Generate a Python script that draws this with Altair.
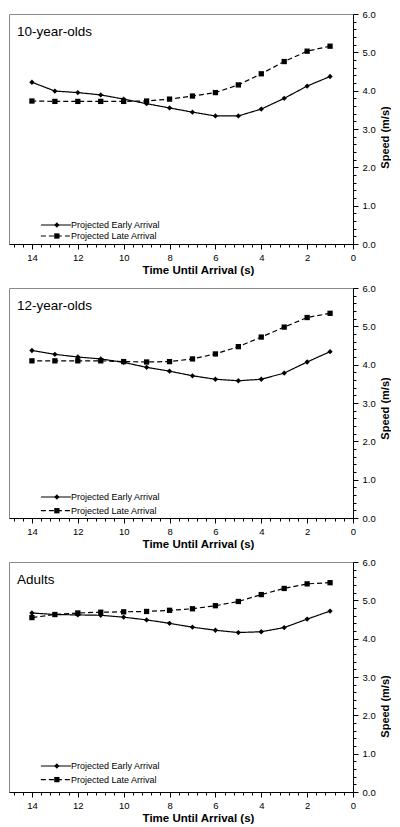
import altair as alt
import pandas as pd

FONT = "Liberation Sans"

time_until = [14, 13, 12, 11, 10, 9, 8, 7, 6, 5, 4, 3, 2, 1]
series_names = ["Projected Early Arrival", "Projected Late Arrival"]
marker_names = ["Early marker", "Late marker"]
group_names = ["10-year-olds", "12-year-olds", "Adults"]

early_10 = [4.22, 3.99, 3.95, 3.89, 3.78, 3.66, 3.55, 3.44, 3.34, 3.34, 3.52, 3.80, 4.12, 4.37]
late_10 = [3.73, 3.72, 3.72, 3.72, 3.72, 3.73, 3.78, 3.86, 3.95, 4.15, 4.44, 4.76, 5.03, 5.16]

early_12 = [4.37, 4.27, 4.20, 4.15, 4.06, 3.93, 3.83, 3.71, 3.62, 3.58, 3.62, 3.78, 4.07, 4.34]
late_12 = [4.10, 4.10, 4.10, 4.10, 4.08, 4.07, 4.08, 4.15, 4.28, 4.47, 4.72, 4.98, 5.23, 5.34]

early_ad = [4.67, 4.63, 4.62, 4.61, 4.56, 4.49, 4.40, 4.30, 4.22, 4.16, 4.18, 4.29, 4.51, 4.72]
late_ad = [4.55, 4.63, 4.67, 4.69, 4.70, 4.71, 4.74, 4.78, 4.86, 4.97, 5.15, 5.31, 5.43, 5.46]

x_tick_values = [round(0.4 * k, 1) for k in range(38)]
y_tick_values = [round(0.2 * k, 1) for k in range(31)]

X_MAJOR = "abs(datum.value - 2*round(datum.value/2)) < 0.01"
Y_MAJOR = "abs(datum.value - round(datum.value)) < 0.01"

W, H = 344, 230
LEG_FS = 9
SYM_CENTER = 46  # legend symbol centre, px from plot left


def panel(name, early, late, title_y, leg_center, leg_step):
    n = len(time_until)
    df = pd.DataFrame({
        "time": time_until * 2,
        "speed": early + late,
        "series": [series_names[0]] * n + [series_names[1]] * n,
        "marker": [marker_names[0]] * n + [marker_names[1]] * n,
    })

    x = alt.X(
        "time:Q",
        scale=alt.Scale(domain=[0, 15], reverse=True, nice=False, zero=False),
        axis=alt.Axis(
            values=x_tick_values,
            labelExpr=X_MAJOR + " ? format(datum.value, 'd') : ''",
            tickSize={"condition": {"test": X_MAJOR, "value": 5}, "value": 3},
            labelOverlap=False,
            labelFlush=False,
            labelPadding=3,
            title="Time Until Arrival (s)",
            titleFontSize=11.5,
            titleX=189,
            titlePadding=3,
        ),
    )
    y = alt.Y(
        "speed:Q",
        scale=alt.Scale(domain=[0, 6], nice=False, zero=True),
        axis=alt.Axis(
            orient="right",
            values=y_tick_values,
            labelExpr=Y_MAJOR + " ? format(datum.value, '.1f') : ''",
            tickSize={"condition": {"test": Y_MAJOR, "value": 5}, "value": 3},
            labelOverlap=False,
            labelFlush=False,
            labelPadding=4,
            title="Speed (m/s)",
            titleFontSize=11,
            titleAngle=270,
            titleBaseline="top",
            titleY=title_y,
            titlePadding=4,
        ),
    )

    leg_y = leg_center - LEG_FS / 2
    row_pad = leg_step - LEG_FS

    lines = alt.Chart(df).mark_line(color="black", strokeWidth=1.2).encode(
        x=x,
        y=y,
        strokeDash=alt.StrokeDash(
            "series:N",
            scale=alt.Scale(domain=series_names, range=[[1, 0], [5, 3]]),
            legend=alt.Legend(
                orient="none", legendX=SYM_CENTER - 3.6, legendY=leg_y, title=None,
                symbolType="M-5,0H5", symbolSize=36, symbolStrokeWidth=1.2,
                symbolStrokeColor="black", labelFont=FONT, labelFontSize=LEG_FS,
                labelColor="black", labelOffset=10.5, padding=0, rowPadding=row_pad,
                labelLimit=300,
            ),
        ),
        order="time:Q",
    )
    points = alt.Chart(df).mark_point(filled=True, color="black", opacity=1, size=28).encode(
        x=x,
        y=y,
        shape=alt.Shape(
            "marker:N",
            scale=alt.Scale(domain=marker_names, range=["diamond", "square"]),
            legend=alt.Legend(
                orient="none", legendX=SYM_CENTER - 2.65, legendY=leg_y, title=None,
                symbolSize=28, symbolFillColor="black", symbolStrokeColor="black",
                symbolStrokeWidth=0, labelFont=FONT, labelFontSize=LEG_FS,
                labelExpr="''", labelOffset=3, padding=0, rowPadding=row_pad,
            ),
        ),
    )
    label = alt.Chart(pd.DataFrame({"label": [name]})).mark_text(
        align="left", baseline="middle", font=FONT, fontSize=13.5, color="black"
    ).encode(x=alt.value(8), y=alt.value(18), text="label:N")

    return alt.layer(lines, points, label).properties(width=W, height=H)


p1 = panel(group_names[0], early_10, late_10, 123, 211, 10)
p2 = panel(group_names[1], early_12, late_12, 120, 209, 12.7)
p3 = panel(group_names[2], early_ad, late_ad, 144, 204, 12.6)

chart = (
    alt.vconcat(p1, p2, p3, spacing=5)
    .resolve_scale(strokeDash="independent", shape="independent")
    .properties(padding={"left": 0, "top": 0, "right": 0, "bottom": 0})
    .configure_view(stroke="#8a8a8a", strokeWidth=1)
    .configure_axis(
        labelFont=FONT, titleFont=FONT, labelFontSize=9.5,
        titleFontWeight="bold", domainColor="black", tickColor="black",
        labelColor="black", titleColor="black", grid=False, domainWidth=1,
    )
)

chart.save("out.html", embed_options={"renderer": "svg", "actions": False})
